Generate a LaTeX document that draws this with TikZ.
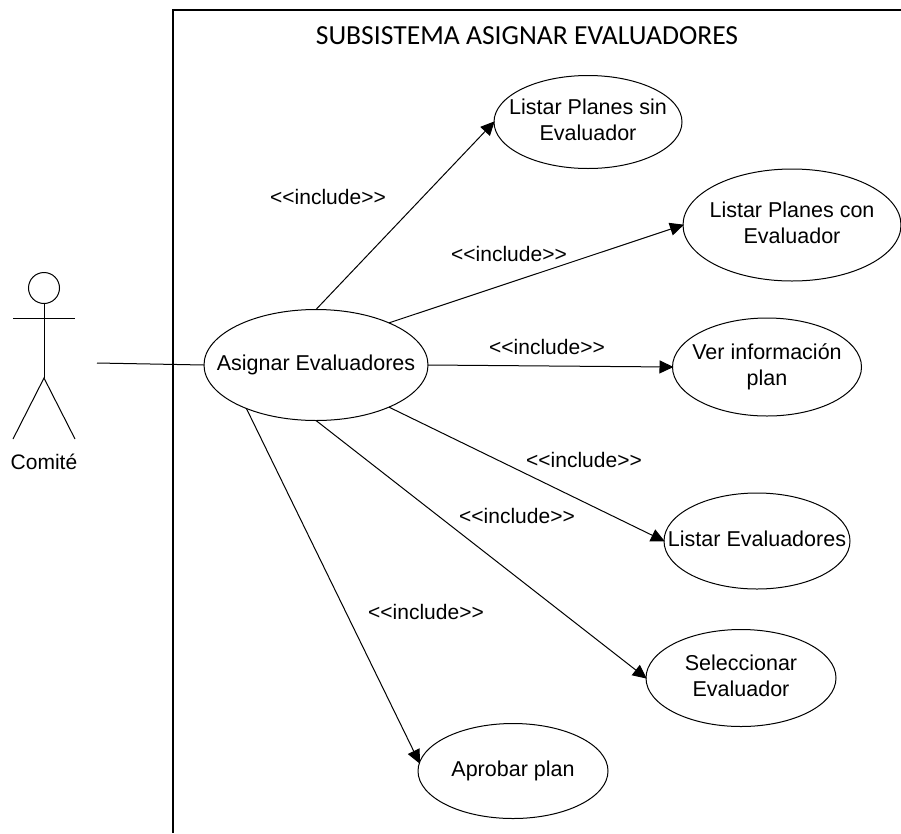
\documentclass[tikz,border=0pt]{standalone}
\usepackage{fontspec}
\setmainfont{Liberation Sans}
\newfontfamily\titlefont{Carlito}
\usetikzlibrary{shapes.geometric,arrows.meta}
\newcommand{\uctext}[1]{\makebox[0pt][c]{\begin{tabular}{@{}c@{}}#1\end{tabular}}}
\tikzset{
  usecase/.style={ellipse,draw=black,line width=1pt,fill=white,inner sep=0pt,outer sep=0pt,font=\fontsize{21.5}{26}\selectfont},
  include/.style={-{Triangle[length=14pt,width=13pt]},line width=1pt,black,shorten >=-1pt},
  assoc/.style={line width=1pt,black},
  stereo/.style={font=\fontsize{21}{25}\selectfont,inner sep=0pt},
  sysborder/.style={line width=2pt,black},
  actorline/.style={line width=1pt,black}
}
\renewcommand{\arraystretch}{1.0}
\begin{document}
\begin{tikzpicture}[x=1pt,y=-1pt]
\useasboundingbox (0,0) rectangle (901,833);
% system boundary
\coordinate (bTL) at (173,10);
\coordinate (bTR) at (901,10);
\coordinate (bBL) at (173,833);
\draw[sysborder] (bTR) -- (bTL) -- (bBL);
\node[font=\titlefont\fontsize{27.6}{33}\selectfont,inner sep=0pt] (title) at (527,36) {SUBSISTEMA ASIGNAR EVALUADORES};
% actor
\node[circle,draw=black,line width=1pt,minimum size=31pt,inner sep=0pt] (head) at (44,288) {};
\coordinate (armL) at (13,318);
\coordinate (armR) at (75,318);
\coordinate (hip) at (44,378);
\coordinate (legL) at (13,439);
\coordinate (legR) at (75,439);
\draw[actorline] (head.south) -- (hip);
\draw[actorline] (armL) -- (armR);
\draw[actorline] (legL) -- (hip) -- (legR);
\node[font=\fontsize{21}{25}\selectfont,inner sep=0pt] (comite) at (44,462) {Comité};
% use cases
\node[usecase,minimum width=224pt,minimum height=111pt] (asignar) at (316,365) {\uctext{Asignar Evaluadores}};
\node[usecase,minimum width=188pt,minimum height=93pt] (sin) at (588,122) {\uctext{Listar Planes sin\\Evaluador}};
\node[usecase,minimum width=218pt,minimum height=112pt] (con) at (792,225) {\uctext{Listar Planes con\\Evaluador}};
\node[usecase,minimum width=189pt,minimum height=98pt] (ver) at (767,367) {\uctext{Ver información\\plan}};
\node[usecase,minimum width=186pt,minimum height=96pt] (listar) at (757,541) {\uctext{Listar Evaluadores}};
\node[usecase,minimum width=190pt,minimum height=97pt] (sel) at (741,678) {\uctext{Seleccionar\\Evaluador}};
\node[usecase,minimum width=190pt,minimum height=95pt] (aprobar) at (513,771) {\uctext{Aprobar plan}};
% connectors
\coordinate (actorEnd) at (97,363);
\draw[assoc] (actorEnd) -- (asignar.west);
\draw[include] (asignar.north) -- (sin.west);
\draw[include] (asignar.30.6) -- (con.west);
\draw[include] (asignar.east) -- (ver.west);
\draw[include] (asignar.-30.6) -- (listar.west);
\draw[include] (asignar.south) -- (sel.west);
\draw[include] (asignar.212) -- (aprobar.175);
% stereotypes
\node[stereo] (l1) at (328,197) {<{}<include>{}>};
\node[stereo] (l2) at (509,254) {<{}<include>{}>};
\node[stereo] (l3) at (547,347) {<{}<include>{}>};
\node[stereo] (l4) at (584,460) {<{}<include>{}>};
\node[stereo] (l5) at (517,516) {<{}<include>{}>};
\node[stereo] (l6) at (426,612) {<{}<include>{}>};
\end{tikzpicture}
\end{document}
